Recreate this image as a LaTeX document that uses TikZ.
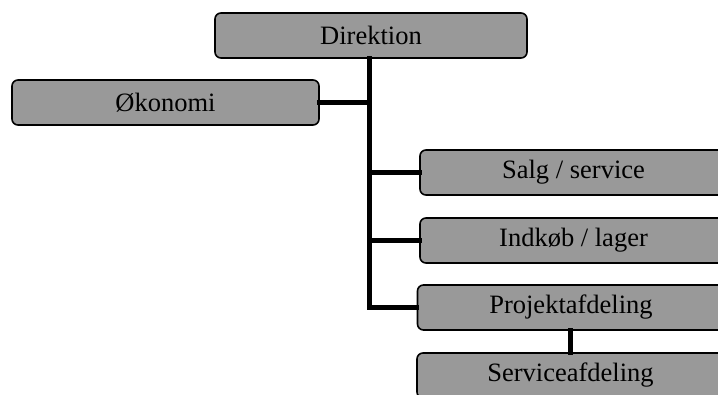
\documentclass[tikz,border=0pt]{standalone}
\usepackage{fontspec}
\setmainfont{Liberation Serif}
\begin{document}
\begin{tikzpicture}[x=1pt,y=-1pt,
  unit/.style={draw=black, line width=1.6pt, rounded corners=6pt, fill=black!40,
    minimum width=307pt, minimum height=45pt, inner sep=0pt,
    font=\fontsize{26.5}{28}\selectfont, text=black},
  conn/.style={line width=5pt, line cap=rect}]
\useasboundingbox (0,0) rectangle (718,395);
\clip (0,0) rectangle (718,395);
\node[unit, minimum width=312pt] (dir) at (371,35.5) {Direktion};
\node[unit] (oko) at (165.5,102.5) {Økonomi};
\node[unit] (salg) at (573.5,172.5) {Salg / service};
\node[unit] (ind) at (573.5,240.5) {Indkøb / lager};
\node[unit] (proj) at (571,307.5) {Projektafdeling};
\node[unit] (serv) at (570.5,375.5) {Serviceafdeling};
\coordinate (spine) at (369,307.5);
\draw[conn] (dir.south -| spine) -- (spine);
\draw[conn] (oko.east) -- (oko.east -| spine);
\draw[conn] (spine |- salg.west) -- (salg.west);
\draw[conn] (spine |- ind.west) -- (ind.west);
\draw[conn] (spine) -- (proj.west);
\draw[conn] (proj.south -| serv.north) -- (serv.north);
\end{tikzpicture}
\end{document}
